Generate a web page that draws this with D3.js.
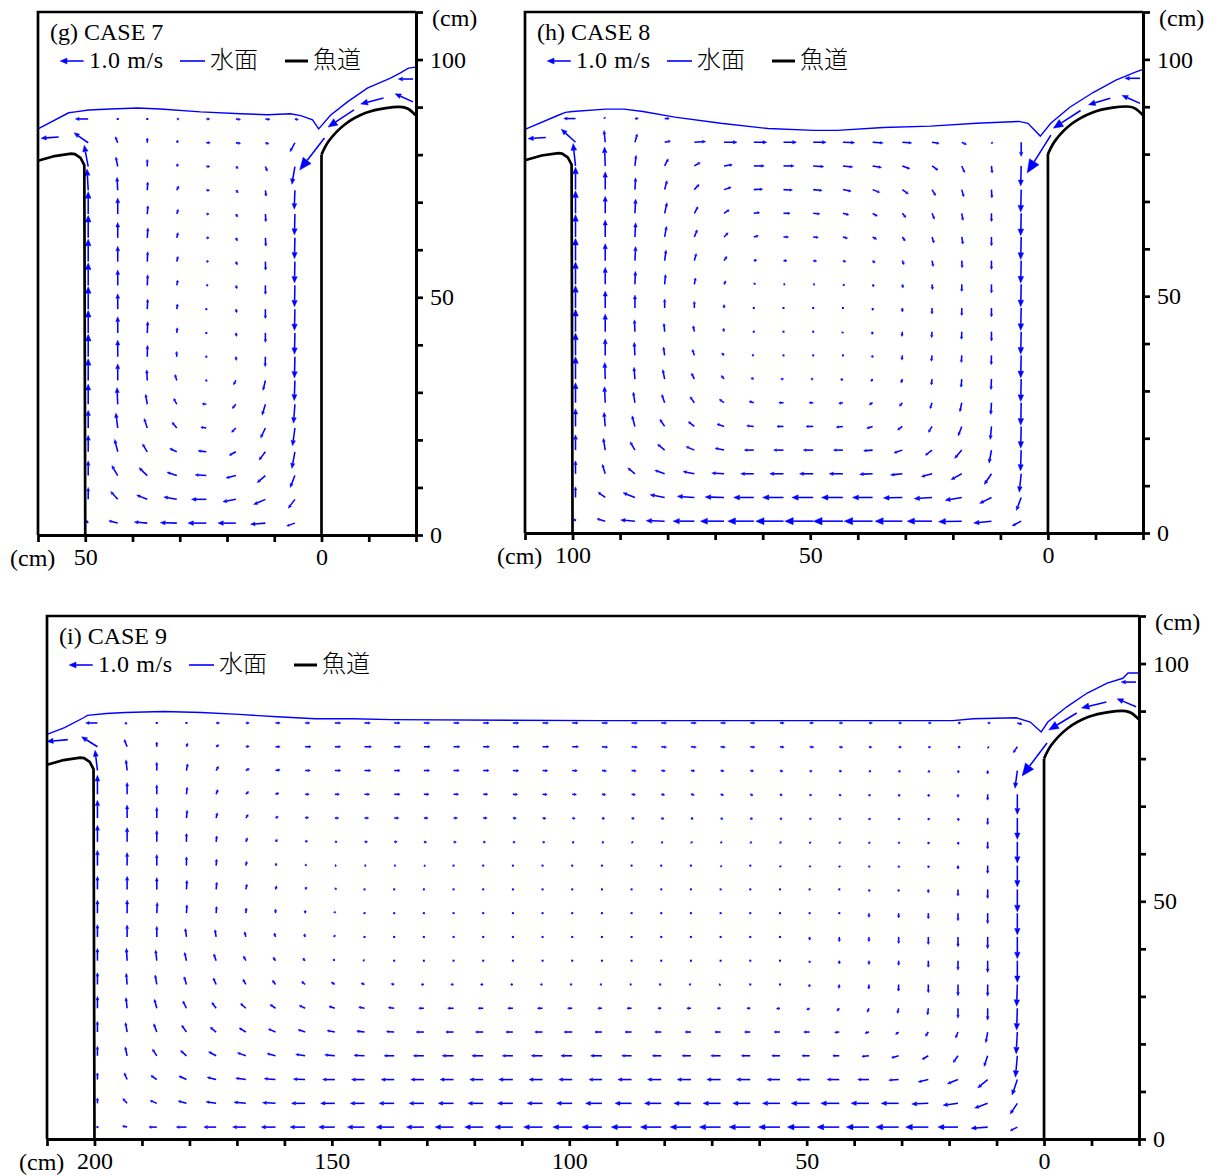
<!DOCTYPE html>
<html><head><meta charset="utf-8">
<script src="https://cdn.jsdelivr.net/npm/d3@7"></script>
<style>
body{margin:0;background:#fff}
svg text{font-family:"Liberation Serif","Times New Roman",serif;font-size:24px;fill:#000}
svg text.cjk{font-family:"Noto Sans CJK JP","Noto Sans CJK SC",sans-serif;font-weight:300}
</style></head><body>
<svg id="c" width="1215" height="1176"></svg>
<script>
// ---------- shared data ----------
const ARROW_CM = 5;               // arrow length (cm) for 1.0 m/s
const rowsY = [87.5,82.5,77.5,72.5,67.5,62.5,57.5,52.5,47.5,42.5,37.5,32.5,27.5,22.5,17.5,12.5,7.5,2.5];
const N = null;

// fishway structures (cm)
const weirX = [0,-1.5,-5,-9.4,-13.6,-17.2,-18.4,-20];
const weirY = [80,82.8,86.4,88.8,89.8,90.0,89.6,88.2];
const wallDX = [10,6.5,3,2.2,1,0.2,0];   // offset from left wall position
const wallY  = [78.7,79.7,80.2,80.1,79.3,77.8,0];

// ---------- CASE 7 ----------
const gCols = [49.375,43.125,36.875,30.625,24.375,18.125,11.875,5.625];
const gU = [
[55,5,0,-10,-15,-20,-20,-15],
[60,10,0,-5,-17,-20,-15,21],
[17,8,0,-5,-15,-10,-8,13],
[5,3,-2,-8,-14,-10,-3,3],
[0,0,-3,-6,-12,-8,-2,2],
[0,0,-3,-5,-12,-7,-2,2],
[0,0,-2,-5,-10,-6,-1,2],
[0,0,-2,-4,-8,-5,0,2],
[0,0,-2,-3,-6,-4,0,2],
[0,0,-2,-2,-5,-3,0,2],
[0,0,-1,1,-3,-2,1,2],
[0,0,2,8,5,10,10,3],
[0,3,7,13,18,15,14,6],
[0,8,13,20,24,18,20,10],
[0,13,20,30,35,28,27,13],
[0,25,35,42,48,42,35,20],
[0,30,45,55,63,55,50,28],
[10,38,55,70,78,76,63,35]];
const gV = [
[0,-3,-5,0,0,-2,-2,-3],
[42,25,20,10,0,-3,-5,-38],
[90,40,30,12,0,-8,-20,-75],
[90,55,35,18,0,-10,-25,-80],
[95,68,35,20,0,-12,-32,-88],
[95,65,42,22,0,-13,-35,-88],
[95,65,42,22,2,-14,-36,-90],
[95,65,45,22,2,-14,-38,-90],
[95,65,42,22,2,-15,-40,-90],
[95,68,48,22,2,-15,-40,-90],
[95,70,48,22,2,-16,-42,-90],
[92,70,45,25,0,-18,-42,-85],
[85,70,42,24,2,-18,-46,-80],
[75,63,40,24,3,-18,-42,-75],
[70,52,33,14,4,-15,-35,-70],
[62,42,33,14,3,-10,-30,-50],
[50,33,18,10,0,-10,-22,-38],
[12,10,5,2,0,0,-5,-12]];
const gExtra = [[55.625,83.7,75,-5],[-0.625,83.5,105,-135],[-6.875,89.4,110,-72],[-13.125,91.9,97,-25],[-19.375,91.1,76,34],[-19.375,95.9,63,0]];
const gSurfX = [60,53.5,52.1,49.3,44.7,38.9,34.1,25.6,17.1,11.4,6.6,4.4,1.9,0.6,-1.9,-5.5,-9.7,-14.6,-16.7,-18.4,-20];
const gSurfY = [85.4,88.8,89.0,89.4,89.6,89.8,89.6,89.0,88.6,88.4,88.6,88.2,87.3,85.4,88.3,91.1,94.0,96.1,97.2,98.2,98.4];

// ---------- CASE 8 ----------
const hCols = [99.375,93.125,86.875,80.625,74.375,68.125,61.875,55.625,49.375,43.125,36.875,30.625,24.375,18.125,11.875,5.625];
const hU = [
[50,5,-15,-20,N,N,N,N,N,N,N,N,N,N,N,N],
[60,5,-10,-25,-48,-55,-55,-55,-55,-50,-45,-40,-30,-20,-5,0],
[10,3,-5,-15,-25,-35,-45,-45,-45,-42,-38,-32,-25,-12,-3,2],
[0,0,-3,-10,-20,-30,-38,-38,-38,-35,-30,-25,-15,-8,-2,2],
[0,0,-3,-10,-15,-22,-25,-28,-28,-25,-20,-15,-10,-5,0,2],
[0,0,-3,-8,-12,-17,-20,-22,-22,-20,-17,-12,-8,-5,0,2],
[0,0,-3,-6,-8,-12,-13,-15,-15,-13,-10,-7,-5,-2,0,2],
[0,0,-2,-4,-5,-7,-7,-7,-7,-7,-5,-3,-2,0,0,2],
[0,0,0,0,0,0,0,0,0,-2,-1,0,0,0,0,2],
[0,0,2,3,5,3,3,2,2,3,3,2,2,1,0,2],
[0,0,3,5,8,10,8,4,3,2,2,2,3,2,1,2],
[0,2,4,8,12,12,12,12,10,10,7,5,3,3,2,2],
[0,3,7,12,18,20,20,20,18,18,15,12,8,8,3,2],
[0,5,12,20,25,30,30,28,30,28,25,20,15,15,5,2],
[0,8,20,30,35,38,40,42,42,40,38,35,28,30,10,3],
[0,12,30,42,48,52,55,58,58,58,55,50,45,45,30,8],
[0,30,50,62,72,80,85,88,90,90,85,80,75,70,50,20],
[5,35,60,78,90,100,110,117,120,125,120,115,105,98,75,38]];
const hV = [
[0,5,0,0,N,N,N,N,N,N,N,N,N,N,N,N],
[55,50,35,5,3,0,0,0,0,-2,-3,-3,-5,-10,-5,-60],
[95,80,45,30,15,5,0,0,-3,-5,-7,-12,-18,-28,-30,-85],
[95,75,50,38,22,10,2,-2,-4,-7,-12,-18,-25,-30,-35,-95],
[95,72,60,45,28,15,3,0,-3,-7,-12,-18,-25,-30,-35,-95],
[95,72,60,45,30,18,5,0,-2,-6,-10,-17,-25,-30,-38,-95],
[95,72,60,45,30,18,3,0,-2,-5,-10,-17,-25,-30,-37,-95],
[95,72,55,42,27,15,5,0,0,-5,-10,-15,-22,-30,-37,-95],
[95,72,55,38,28,15,5,2,2,-5,-10,-17,-25,-32,-38,-95],
[95,75,50,35,25,15,3,0,0,-7,-12,-20,-25,-32,-40,-95],
[95,70,55,35,25,10,2,0,-2,-5,-10,-20,-25,-30,-40,-95],
[95,70,50,40,25,15,5,0,0,-4,-10,-17,-25,-35,-45,-95],
[85,68,45,35,25,15,6,0,0,-3,-8,-15,-25,-38,-50,-95],
[75,60,45,30,20,10,3,0,0,-3,-8,-15,-25,-40,-55,-92],
[65,50,35,25,15,8,0,0,0,0,-3,-12,-22,-35,-55,-88],
[55,40,25,15,10,3,0,0,0,0,-2,-5,-12,-25,-45,-78],
[45,22,20,12,5,2,0,0,0,0,0,-2,-5,-12,-25,-55],
[10,10,5,2,0,0,0,0,0,0,0,0,0,-2,-8,-20]];
const hExtra = [[105.625,83.5,75,-5],[-0.625,84,100,-160],[-6.875,89.2,115,-75],[-13.125,91.8,92,-28],[-19.375,90.7,76,34],[-19.375,96,64,0]];
const hSurfX = [110,103,101.5,100,93,89.2,85.2,78.5,68.8,58.9,49.2,44.3,34.6,24.7,15.0,6.1,4.2,1.6,-0.6,-4.6,-9.5,-14.3,-18.4,-20];
const hSurfY = [85.2,88.2,88.8,89.0,89.5,89.5,89.0,87.8,86.5,85.4,85.0,85.0,85.6,85.9,86.5,86.9,86.5,83.8,86.5,89.9,93.0,95.6,97.3,97.9];

// ---------- CASE 9 ----------
const iCols = [199.375,193.125,186.875,180.625,174.375,168.125,161.875,155.625,149.375,143.125,136.875,130.625,124.375,118.125,111.875,105.625,99.375,93.125,86.875,80.625,74.375,68.125,61.875,55.625,49.375,43.125,36.875,30.625,24.375,18.125,11.875,5.625];
const iU = [
[50,10,0,-5,-15,-15,-20,-20,-25,-25,-25,-25,-25,-25,-25,-25,-25,-25,-25,-23,-23,-22,-20,-18,-17,-15,-15,-13,-13,-12,-12,-20],
[67,12,0,-5,-12,-15,-20,-25,-25,-30,-28,-27,-27,-27,-27,-27,-27,-25,-25,-23,-23,-20,-20,-18,-18,-15,-12,-12,-10,-10,-5,17],
[10,5,0,-5,-10,-15,-20,-22,-25,-27,-25,-25,-25,-25,-25,-22,-22,-20,-20,-18,-17,-15,-15,-13,-10,-10,-8,-7,-5,-3,0,10],
[0,0,0,-3,-7,-12,-15,-18,-20,-22,-25,-22,-22,-20,-20,-20,-18,-17,-17,-15,-15,-13,-12,-10,-8,-7,-5,-4,-3,0,0,0],
[0,0,0,-3,-5,-10,-12,-15,-17,-18,-20,-18,-17,-17,-15,-15,-13,-12,-12,-12,-10,-10,-10,-8,-7,-6,-5,-4,-3,-3,0,0],
[0,0,0,0,-3,-7,-8,-10,-10,-13,-13,-12,-12,-10,-10,-10,-8,-8,-7,-7,-6,-6,-5,-5,-4,-4,-3,-3,-2,-2,0,0],
[0,0,0,0,-2,-4,-5,-6,-7,-7,-7,-7,-6,-5,-5,-5,-4,-4,-4,-4,-4,-4,-3,-3,-3,-2,-2,-2,-2,0,0,0],
[0,0,0,-2,-3,-5,-5,-7,-7,-5,-2,-2,-2,-2,-2,-2,-2,-2,-2,-2,-2,-3,-3,-3,-2,-2,-2,0,0,0,0,0],
[0,0,-2,-2,-2,-2,0,0,0,0,0,0,0,0,0,0,0,0,0,0,0,0,0,0,0,0,0,0,0,0,0,0],
[0,0,0,5,5,5,5,4,3,2,1,1,1,1,0,-2,0,0,0,0,0,0,0,0,0,0,0,0,0,0,0,0],
[0,3,5,8,10,10,10,10,8,7,5,5,5,4,3,2,2,1,1,1,0,0,0,0,0,0,0,0,0,0,0,0],
[0,4,7,10,12,12,13,15,15,15,13,12,12,12,10,10,10,8,8,10,8,7,5,3,2,2,1,1,0,0,0,3],
[0,5,10,15,18,22,23,25,25,25,25,22,25,22,22,22,20,18,20,15,18,15,15,15,12,10,7,5,3,0,0,3],
[0,7,13,20,25,28,30,30,33,33,33,33,33,33,30,33,35,30,28,28,25,25,25,25,25,20,17,13,12,10,8,5],
[0,8,18,25,32,36,36,40,43,45,43,45,48,48,45,48,48,48,42,38,38,42,38,35,33,28,30,30,26,20,15,8],
[0,12,25,32,38,43,48,50,52,55,55,55,57,57,60,57,57,55,58,58,58,58,58,55,55,52,48,42,43,45,42,22],
[0,18,28,35,43,50,55,58,60,60,64,62,65,65,65,65,66,69,70,71,72,74,74,74,78,78,76,74,70,63,55,30],
[5,20,33,43,52,56,60,64,68,72,76,74,78,78,76,80,82,84,86,88,88,90,90,90,94,94,96,96,96,85,70,30]];
const iV = [
[0,-3,-5,0,0,0,0,0,0,0,0,0,0,0,0,0,0,0,0,0,0,0,0,0,0,0,0,0,0,0,0,-5],
[42,30,20,15,8,2,0,0,0,0,0,0,0,0,0,0,0,-2,-2,-2,-2,-2,-2,-2,-2,-3,-3,-3,-3,-3,-5,-25],
[85,45,35,28,18,8,3,0,0,0,0,0,0,0,-1,-1,-1,-2,-2,-2,-2,-3,-3,-4,-5,-5,-6,-7,-8,-10,-15,-75],
[80,50,40,30,20,12,5,0,0,0,0,0,0,0,-1,-1,-1,-2,-2,-3,-3,-4,-5,-5,-6,-7,-8,-9,-10,-13,-25,-85],
[75,55,45,33,22,15,7,3,0,0,0,0,0,0,-1,-2,-2,-3,-3,-4,-4,-5,-5,-6,-6,-7,-8,-8,-9,-12,-28,-90],
[70,60,48,35,25,17,10,5,0,0,0,-2,-2,-2,-3,-3,-4,-4,-4,-5,-5,-5,-6,-6,-7,-7,-8,-8,-10,-12,-30,-90],
[65,55,47,37,27,18,10,5,0,0,0,-2,-2,-3,-3,-4,-4,-5,-5,-5,-5,-6,-6,-7,-7,-8,-8,-9,-10,-15,-33,-90],
[55,55,50,38,30,22,15,10,5,0,0,-1,-1,-1,-1,-2,-2,-2,-2,-2,-2,-3,-3,-4,-5,-6,-10,-10,-15,-28,-38,-95],
[55,55,45,35,28,22,17,12,8,3,2,2,2,2,2,1,1,0,0,0,0,0,0,-3,-3,-5,-18,-20,-24,-32,-45,-92],
[52,50,45,35,30,22,17,13,8,3,2,1,1,1,1,0,0,0,0,-2,-2,-3,-3,-5,-14,-20,-20,-28,-32,-42,-50,-92],
[52,52,45,35,28,20,15,10,6,3,1,0,0,0,-2,-1,-1,-1,-1,-1,-2,-3,-4,-5,-10,-14,-17,-20,-28,-40,-50,-92],
[50,47,40,33,27,22,18,13,10,6,3,0,0,0,0,0,0,0,0,0,0,-2,-4,-6,-11,-17,-20,-28,-35,-48,-50,-92],
[50,45,38,30,24,20,16,12,8,5,3,0,0,0,0,0,0,0,0,0,0,0,0,-2,-7,-12,-17,-22,-28,-42,-50,-92],
[45,40,35,28,20,17,13,10,6,4,2,0,0,0,0,0,0,0,0,0,0,0,0,0,0,-2,-5,-10,-18,-25,-45,-92],
[40,38,28,22,17,13,10,6,4,2,0,0,0,0,0,0,0,0,0,0,0,0,0,0,0,0,-3,-8,-15,-28,-45,-90],
[28,28,17,15,10,6,4,2,0,0,0,0,0,0,0,0,0,0,0,0,0,0,0,0,0,0,0,-3,-10,-18,-35,-65],
[22,20,12,10,7,5,3,0,0,0,0,0,0,0,0,0,0,0,0,0,0,0,0,0,0,0,0,0,-3,-8,-20,-45],
[3,5,0,0,0,0,0,0,0,0,0,0,0,0,0,0,0,0,0,0,0,0,0,0,0,0,0,0,0,0,-5,-15]];
const iExtra = [[205.625,84,88,-8],[-0.625,83.3,105,-139],[-6.875,89.6,118,-72],[-13.125,91.9,105,-25],[-19.375,90.9,80,34],[-19.375,96.1,63,0]];
const iSurfX = [210,206.3,202.3,201.5,197.5,193.5,185.5,177.5,169.5,161.5,153.5,145.5,137.5,93.5,19.2,14.9,5.9,2.9,0.6,-0.8,-4.8,-9.1,-13.3,-16.6,-17.7,-20];
const iSurfY = [85.1,86.5,88.6,89.1,89.5,89.7,89.9,89.7,89.3,88.8,88.4,88.4,88.2,88.0,88.0,88.4,88.6,87.7,85.6,87.7,90.9,93.8,95.9,96.9,98.0,98.0];

const panels = [
 {title:"(g) CASE 7", box:[38,416,12,535], xDom:[60,-20], xTicks:d3.range(60,-21,-10), xLab:[50,0], wall:50,
  cols:gCols, U:gU, V:gV, extra:gExtra, sx:gSurfX, sy:gSurfY},
 {title:"(h) CASE 8", box:[525,1143,12,533], xDom:[110,-20], xTicks:d3.range(110,-21,-10), xLab:[100,50,0], wall:100,
  cols:hCols, U:hU, V:hV, extra:hExtra, sx:hSurfX, sy:hSurfY},
 {title:"(i) CASE 9", box:[47,1139,616,1139], xDom:[210,-20], xTicks:d3.range(210,-21,-10), xLab:[200,150,100,50,0], wall:200,
  cols:iCols, U:iU, V:iV, extra:iExtra, sx:iSurfX, sy:iSurfY}
];

const svg = d3.select("#c");
const BLUE = "#0000ff";

function arrowGeom(x0,y0,x1,y1){
  const dx=x1-x0, dy=y1-y0, L=Math.hypot(dx,dy);
  if (L<1.6) return null;
  const ux=dx/L, uy=dy/L;
  const hl=Math.min(0.6*L, Math.max(2.2,0.3*L)), hw=Math.max(1.3,hl*0.42);
  const bx=x1-ux*hl, by=y1-uy*hl;
  return {x0,y0,bx,by,pts:[[x1,y1],[bx-uy*hw,by+ux*hw],[bx+uy*hw,by-ux*hw]]};
}

function drawArrows(g, list){
  list.forEach(a=>{
    const geo = arrowGeom(a.x0,a.y0,a.x1,a.y1);
    if(!geo){
      g.append("rect").attr("x",a.x0-1).attr("y",a.y0-1).attr("width",2).attr("height",2).attr("fill",BLUE);
      return;
    }
    g.append("line").attr("x1",geo.x0).attr("y1",geo.y0).attr("x2",geo.bx).attr("y2",geo.by)
      .attr("stroke",BLUE).attr("stroke-width",1.55);
    g.append("polygon").attr("points",geo.pts.map(p=>p.join(",")).join(" ")).attr("fill",BLUE)
      .attr("stroke",BLUE).attr("stroke-width",0.4);
  });
}

panels.forEach(p=>{
  const [L,R,T,B] = p.box;
  const x = d3.scaleLinear().domain(p.xDom).range([L,R]);
  const y = d3.scaleLinear().domain([0,110]).range([B,T]);
  const g = svg.append("g");

  // vectors
  const list=[];
  rowsY.forEach((yy,j)=>p.cols.forEach((xx,k)=>{
    const u=p.U[j][k], v=p.V[j][k];
    if(u==null) return;
    list.push({x0:x(xx),y0:y(yy),x1:x(xx+u/100*ARROW_CM),y1:y(yy+v/100*ARROW_CM)});
  }));
  p.extra.forEach(e=>list.push({x0:x(e[0]),y0:y(e[1]),x1:x(e[0]+e[2]/100*ARROW_CM),y1:y(e[1]+e[3]/100*ARROW_CM)}));
  drawArrows(g.append("g"), list);

  // water surface
  const line = d3.line().x(d=>x(d[0])).y(d=>y(d[1]));
  g.append("path").attr("d",line(p.sx.map((v,i)=>[v,p.sy[i]]))).attr("fill","none")
    .attr("stroke",BLUE).attr("stroke-width",1.4);

  // fishway structures
  const blk = {stroke:"#000","stroke-width":2.7,fill:"none"};
  const wp = g.append("path").attr("d",line(wallDX.map((d,i)=>[p.wall+d,wallY[i]])));
  const wv = g.append("path").attr("d",line([[0,0],[0,80]]));
  const wa = g.append("path").attr("d",d3.line().x(d=>x(d[0])).y(d=>y(d[1])).curve(d3.curveCatmullRom)(weirX.map((v,i)=>[v,weirY[i]])));
  [wp,wv,wa].forEach(s=>Object.entries(blk).forEach(([k,v])=>s.attr(k,v)));

  // frame
  g.append("path").attr("d",`M${L},${B}V${T}H${R}`).attr("fill","none").attr("stroke","#000").attr("stroke-width",2.7);

  // axes
  const xa = g.append("g").attr("transform",`translate(0,${B})`)
    .call(d3.axisBottom(x).tickValues(p.xTicks).tickSize(7).tickSizeOuter(0).tickPadding(6)
      .tickFormat(d=>p.xLab.includes(d)?d:""));
  const ya = g.append("g").attr("transform",`translate(${R},0)`)
    .call(d3.axisRight(y).tickValues(d3.range(0,111,10)).tickSize(7).tickSizeOuter(0).tickPadding(7)
      .tickFormat(d=>[0,50,100].includes(d)?d:""));
  [xa,ya].forEach(a=>{
    a.select(".domain").attr("stroke-width",3);
    a.selectAll(".tick line").attr("stroke-width",2.7);
    a.selectAll("text").attr("fill","#000");
  });
  g.append("text").attr("x",L-28).attr("y",B+31).text("(cm)");
  g.append("text").attr("x",R+16).attr("y",T+14).text("(cm)");

  // legend
  g.append("text").attr("x",L+12).attr("y",T+28).text(p.title);
  const ly=T+49, al=Math.abs(x(ARROW_CM)-x(0));
  drawArrows(g.append("g"),[{x0:L+22+al,y0:ly,x1:L+22,y1:ly}]);
  g.append("text").attr("x",L+51).attr("y",T+56).attr("textLength",74).text("1.0 m/s");
  g.append("line").attr("x1",L+142).attr("x2",L+167).attr("y1",ly).attr("y2",ly).attr("stroke",BLUE).attr("stroke-width",1.6);
  g.append("text").attr("class","cjk").attr("x",L+172).attr("y",T+56).text("水面");
  g.append("line").attr("x1",L+247).attr("x2",L+270).attr("y1",ly).attr("y2",ly).attr("stroke","#000").attr("stroke-width",3);
  g.append("text").attr("class","cjk").attr("x",L+275).attr("y",T+56).text("魚道");
});
</script></body></html>
